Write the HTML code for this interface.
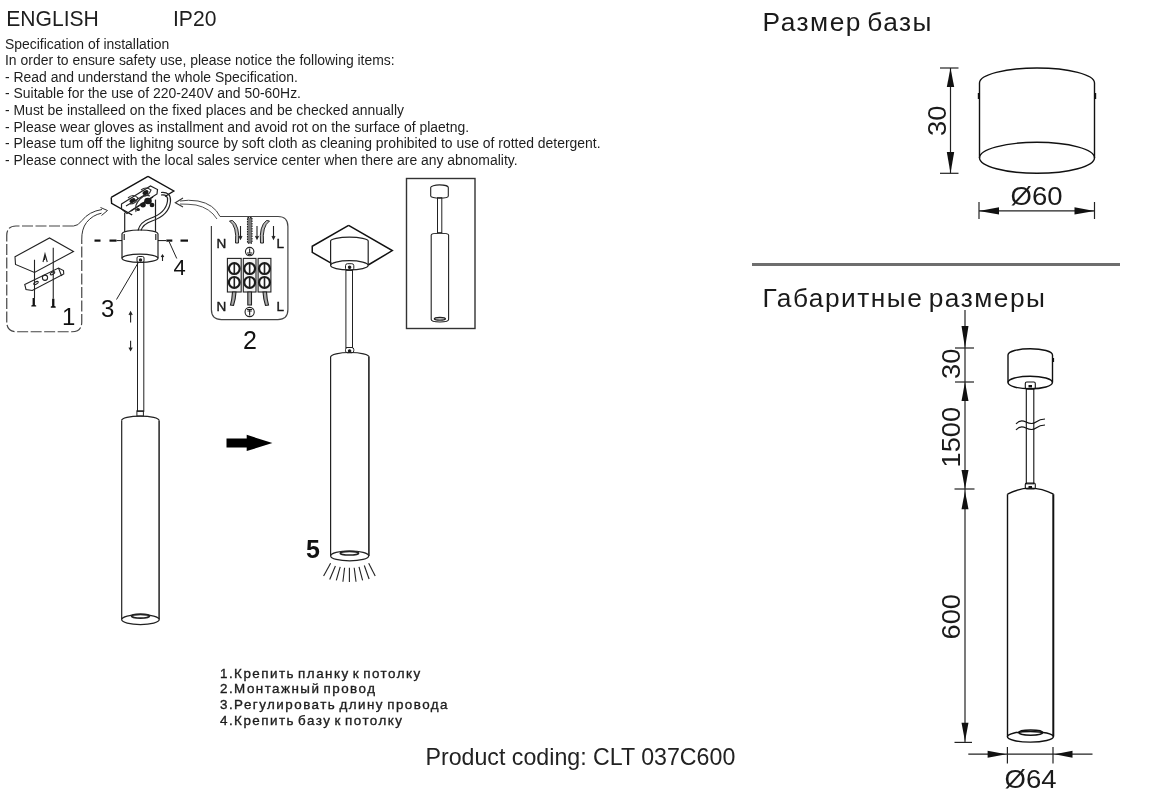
<!DOCTYPE html>
<html><head><meta charset="utf-8">
<style>
html,body{margin:0;padding:0;background:#fff;}
body{width:1159px;height:800px;overflow:hidden;position:relative;}
svg{position:absolute;left:0;top:0;will-change:transform;}
text{font-family:"Liberation Sans",sans-serif;fill:#1e1e1e;}
.spec{font-size:13.95px;fill:#2a2a2a;}
.ru{font-size:26.3px;letter-spacing:1.5px;word-spacing:-3.5px;fill:#1a1a1a;}
.dim{font-size:25px;fill:#1a1a1a;}
.num{font-size:23px;fill:#111;}
.ln{fill:none;stroke:#333;stroke-width:1.2;}
.lk{fill:none;stroke:#111;stroke-width:1.4;}
</style></head>
<body>
<svg width="1159" height="800" viewBox="0 0 1159 800">
<!-- top text -->
<text transform="translate(6.2 25.6) scale(0.96 1)" style="font-size:22px">ENGLISH</text>
<text transform="translate(173 25.6) scale(0.96 1)" style="font-size:22px">IP20</text>
<g class="spec">
<text x="5" y="48.7">Specification of installation</text>
<text x="5" y="64.6">In order to ensure safety use, please notice the following items:</text>
<text x="5" y="81.5">- Read and understand the whole Specification.</text>
<text x="5" y="98.2">- Suitable for the use of 220-240V and 50-60Hz.</text>
<text x="5" y="115.1">- Must be installeed on the fixed places and be checked annually</text>
<text x="5" y="131.5">- Please wear gloves as installment and avoid rot on the surface of plaetng.</text>
<text x="5" y="147.7">- Please tum off the lighitng source by soft cloth as cleaning prohibited to use of rotted detergent.</text>
<text x="5" y="164.5">- Please connect with the local sales service center when there are any abnomality.</text>
</g>
<!-- russian list -->
<g style="font-size:13.4px;letter-spacing:1.47px;word-spacing:-2px;fill:#1a1a1a;stroke:#1a1a1a;stroke-width:0.35px">
<text x="220" y="677.6">1.Крепить планку к потолку</text>
<text x="220" y="693.2">2.Монтажный провод</text>
<text x="220" y="709">3.Регулировать длину провода</text>
<text x="220" y="725">4.Крепить базу к потолку</text>
</g>
<text x="425.5" y="765.3" style="font-size:23.2px;fill:#222">Product coding: CLT 037C600</text>
<text x="762.5" y="30.7" class="ru">Размер базы</text>
<text x="762.5" y="306.7" class="ru">Габаритные размеры</text>


<!-- LEFT drawings -->
<!-- box 1 -->
<path d="M73.5 226 L16 226 Q6.75 226 6.75 235.5 L6.75 322 Q6.75 331.75 16.5 331.75 L72 331.75 Q81.75 331.75 81.75 322 L81.75 240" fill="none" stroke="#444" stroke-width="1.2" stroke-dasharray="11 2.5"/>
<path d="M73.5 226 Q78 226 82 220.5 Q89 211.5 102 209.5" fill="none" stroke="#333" stroke-width="1"/>
<path d="M81.75 240 Q81.5 229 86.5 222.5 Q92.5 215 101.5 213.2" fill="none" stroke="#333" stroke-width="1"/>
<path d="M100.5 207.5 L107.5 210.5 L101.5 215.5" fill="none" stroke="#333" stroke-width="1"/>
<g fill="none" stroke="#222" stroke-width="1.1">
<path d="M15 256.75 L49.5 238 L73.5 251.5 L34.5 272.5 L15.5 264.5 Z"/>
<path d="M24.75 284.5 L58.5 268 L63.5 270.5 L63.75 274 L32.25 290.5 L26 289.5 Z"/>
<path d="M58.5 268 L61 274.5 L62 276" />
<circle cx="45" cy="277.75" r="2.6"/>
<ellipse cx="36" cy="283" rx="2.5" ry="1.2" transform="rotate(-27 36 283)"/>
<ellipse cx="52.5" cy="273.25" rx="2.5" ry="1.2" transform="rotate(-27 52.5 273.25)"/>
<line x1="34.5" y1="259.75" x2="34.5" y2="298"/>
<line x1="53.25" y1="247.75" x2="53.25" y2="298.75"/>
<path d="M43 262 L45 254 L47.25 262 M45 254 L44.5 260"/>
</g>
<g fill="#111">
<path d="M32.6 298 L34.9 298 L34.9 305 L36.2 305.5 L36.2 306.6 L31.3 306.6 L31.3 305.5 L32.6 305 Z"/>
<path d="M52.1 298.75 L54.4 298.75 L54.4 306 L55.7 306.5 L55.7 307.7 L50.8 307.7 L50.8 306.5 L52.1 306 Z"/>
</g>
<text class="num" x="62" y="324.5" style="font-size:24px">1</text>

<!-- ceiling plate + junction -->
<g fill="none" stroke="#111" stroke-width="1.4">
<path d="M148 176.4 L173.8 191 L165 196.5 M111.2 197.4 L148 176.4 M111.2 197.4 L111.6 203.4 L132.2 215"/>
</g>
<g fill="none" stroke="#222" stroke-width="1.2">
<path d="M121.5 204 L150.5 186 L157.5 189.5 L157 194 L153 196.5 L132 210 L127 213.5 L121.5 209 Z"/>
<path d="M126 206 L148 193 M131 211 L153 197"/>
<path d="M138 230.5 Q140 222 150 218.5 Q166 213 167.5 201 Q168.5 194 161 195"/>
<path d="M141 230.5 Q143 224 152 221 Q169.5 215 170.5 201 Q171 191.5 161 192.5"/>
<line x1="124.7" y1="212.7" x2="124.7" y2="232"/>
<line x1="155.5" y1="199.6" x2="155.5" y2="232"/>
</g>
<g fill="#1a1a1a">
<ellipse cx="132.5" cy="200.5" rx="3.2" ry="2" transform="rotate(-30 132.5 200.5)"/>
<ellipse cx="145.5" cy="192.5" rx="3.2" ry="2" transform="rotate(-30 145.5 192.5)"/>
<ellipse cx="148" cy="201" rx="3.8" ry="3.2"/>
<ellipse cx="143" cy="205" rx="2.8" ry="2.4"/>
<ellipse cx="152" cy="205" rx="2.4" ry="2.2"/>
<ellipse cx="138" cy="209.5" rx="2" ry="1.6"/>
</g>
<g fill="none" stroke="#333" stroke-width="1.1">
<path d="M128 198 Q133 193 138 198 Q136 204 130 204 M141 190 Q146 186 151 190 Q149 196 143 196"/>
<path d="M136 212 Q134 205 140 199 Q145 194 150 196"/>
</g>
<!-- arrow right from box 2 -->
<path d="M220 216.5 Q214 204 198 201 Q188 199.5 180 201" fill="none" stroke="#444" stroke-width="1"/>
<path d="M217 219 Q210 208 196 205 Q188 204 180 204" fill="none" stroke="#555" stroke-width="1"/>
<path d="M183 198 L175.3 202.7 L183 207" fill="none" stroke="#333" stroke-width="1.1"/>

<!-- canopy -->
<g fill="none" stroke="#222" stroke-width="1.2">
<path d="M122 234 A18 4 0 0 1 158 234"/>
<path d="M122 234 L122 258.3 M158 234 L158 258.3"/>
<path d="M124.2 234 L124.2 240 M155.8 234 L155.8 240"/>
<ellipse cx="140" cy="258.3" rx="18" ry="4.1"/>
<rect x="137.5" y="262.4" width="6.3" height="149" stroke-width="1"/>
<rect x="137" y="256.5" width="7" height="6" rx="1.5" stroke-width="1"/><circle cx="140.5" cy="260" r="1.1" fill="#111"/>
<rect x="136.9" y="410.8" width="6.5" height="5.2" stroke-width="1"/>
<path d="M121.5 420.6 A18.8 4.5 0 0 1 159.1 420.6"/>
<line x1="121.7" y1="420.6" x2="121.7" y2="619.3"/>
<line x1="159.1" y1="420.6" x2="159.1" y2="619.3" stroke-width="1.5"/>
<ellipse cx="140.45" cy="619.6" rx="18.8" ry="5"/>
<ellipse cx="140.5" cy="616.1" rx="9" ry="2" stroke-width="1.8"/>
<line x1="138" y1="263" x2="116.5" y2="299.5" stroke-width="1"/>
<line x1="169.25" y1="242" x2="176.75" y2="258.5" stroke-width="1"/>
</g>
<g stroke="#111" stroke-width="2.2">
<line x1="94.5" y1="240.6" x2="100.5" y2="240.6"/>
<line x1="109.5" y1="240.6" x2="116.5" y2="240.6"/>
<line x1="116.5" y1="240.6" x2="122" y2="240.6" stroke-width="1"/>
<line x1="158" y1="240.6" x2="166" y2="240.6" stroke-width="1"/>
<line x1="166.3" y1="240.6" x2="172.3" y2="240.6"/>
<line x1="180.5" y1="240.6" x2="188" y2="240.6"/>
</g>
<g fill="none" stroke="#222" stroke-width="1.1">
<path d="M162.5 261 L162.5 255.5 M161.2 257 L162.5 255 L163.8 257"/>
<path d="M130.6 322.4 L130.6 312 M129 315 L130.6 312 L132.2 315"/>
<path d="M130.6 340.8 L130.6 350.4 M129 347.4 L130.6 350.4 L132.2 347.4"/>
</g>
<text class="num" x="101" y="317.1" style="font-size:24px">3</text>
<text class="num" x="173.5" y="275" style="font-size:22px">4</text>

<!-- box 2 -->
<path d="M220 216.5 L278 216.5 Q287.9 216.5 287.9 226.5 L287.9 309.6 Q287.9 319.6 277.9 319.6 L221.4 319.6 Q211.4 319.6 211.4 309.6 L211.4 226" fill="none" stroke="#444" stroke-width="1.2"/>
<g fill="none" stroke="#222" stroke-width="1.1">
<rect x="227.4" y="258.4" width="13.8" height="33.6" fill="#f2f2f2"/>
<rect x="243.3" y="258.4" width="12.7" height="33.6" fill="#f2f2f2"/>
<rect x="258.1" y="258.4" width="12.8" height="33.6" fill="#f2f2f2"/>
<g stroke="#1a1a1a" stroke-width="2.2" fill="#fff">
<circle cx="234.3" cy="268.6" r="5.4"/>
<circle cx="234.3" cy="282.4" r="5.4"/>
<circle cx="249.65" cy="268.6" r="5.4"/>
<circle cx="249.65" cy="282.4" r="5.4"/>
<circle cx="264.5" cy="268.6" r="5.4"/>
<circle cx="264.5" cy="282.4" r="5.4"/>
</g>
<path d="M234.3 263.5 L234.3 273.7 M234.3 277.3 L234.3 287.5 M249.65 263.5 L249.65 273.7 M249.65 277.3 L249.65 287.5 M264.5 263.5 L264.5 273.7 M264.5 277.3 L264.5 287.5" stroke-width="1.6"/>
<circle cx="249.65" cy="251.6" r="4.2"/>
<path d="M249.65 248.5 L249.65 253 M247 253 L252.3 253 M247.8 254.5 L251.5 254.5"/>
<circle cx="249.65" cy="312" r="4.6"/>
<path d="M249.65 309 L249.65 315.5 M247 309.5 L252.3 309.5 M247.5 311 L251.8 311"/>
<path d="M229.5 221 Q237 226 235.5 243 L238.5 243 Q240 226 232.5 220.5 Z" fill="#bbb" stroke-width="1"/>
<path d="M269.5 221 Q262 226 263.5 243 L260.5 243 Q259 226 266.5 220.5 Z" fill="#bbb" stroke-width="1"/>
<rect x="247.5" y="217.6" width="4.5" height="25.5" fill="#777" stroke-dasharray="1.5 1"/>
<path d="M240.5 226 L240.5 239 M239 236 L240.5 239 L242 236"/>
<path d="M257 226 L257 239 M255.5 236 L257 239 L258.5 236"/>
<path d="M273.5 226 L273.5 239 M272 236 L273.5 239 L275 236"/>
<path d="M232.5 292 Q232 300 230.5 305 L233.5 305.5 Q235.5 300 236 292 Z" fill="#aaa"/>
<path d="M247.8 292 L247.8 305 L251.5 305 L251.5 292 Z" fill="#aaa"/>
<path d="M263 292 Q263.5 300 265.5 305.5 L268.5 305 Q267 300 266.5 292 Z" fill="#aaa"/>
</g>
<g style="font-size:13.5px;fill:#111;stroke:#111;stroke-width:0.4px">
<text x="216.5" y="248.4">N</text>
<text x="276.5" y="248.4">L</text>
<text x="216.5" y="311">N</text>
<text x="276.5" y="311">L</text>
</g>
<text class="num" x="243" y="349.3" style="font-size:25px">2</text>

<!-- thick arrow -->
<path d="M226.5 438.4 L246.7 438.4 L246.7 434.8 L272.4 443 L246.7 451.1 L246.7 447.5 L226.5 447.5 Z" fill="#000"/>

<!-- installed pendant -->
<path d="M348.6 225.3 L392.3 250.6 L368.2 265 M331.5 263.3 L312.25 252.4 L312.25 246.25 L348.6 225.3" fill="none" stroke="#111" stroke-width="1.5"/>
<g fill="none" stroke="#222" stroke-width="1.2">
<path d="M330.6 241 A18.8 3.8 0 0 1 368.2 241"/>
<line x1="330.6" y1="241" x2="330.6" y2="265.3"/>
<line x1="368.2" y1="241" x2="368.2" y2="265.3"/>
<ellipse cx="349.4" cy="265.3" rx="18.8" ry="4.6"/>
<rect x="345.9" y="270.3" width="6.6" height="77.2" stroke-width="1"/>
<rect x="345.5" y="263.7" width="8.3" height="6.6" rx="2" stroke-width="1"/><circle cx="349.6" cy="267.3" r="1.2" fill="#111"/>
<rect x="345.5" y="347.5" width="8.3" height="5.3" rx="2" stroke-width="1"/><circle cx="349.6" cy="351" r="1.2" fill="#111"/>
<path d="M330.6 357 A19.25 4.5 0 0 1 369.1 357"/>
<line x1="330.6" y1="357" x2="330.6" y2="555.9"/>
<line x1="368.9" y1="357" x2="368.9" y2="555.9" stroke-width="1.6"/>
<ellipse cx="349.65" cy="555.9" rx="19" ry="4.9"/>
<ellipse cx="349.4" cy="553.2" rx="9.2" ry="1.8" stroke-width="1.6"/>
</g>
<g stroke="#222" stroke-width="1.1" fill="none">
<line x1="330.6" y1="563.3" x2="323.6" y2="576"/>
<line x1="335.4" y1="566" x2="329.7" y2="579.5"/>
<line x1="340.2" y1="566.8" x2="336.3" y2="580.4"/>
<line x1="344.6" y1="567.7" x2="342.9" y2="581.7"/>
<line x1="349.4" y1="567.7" x2="349.4" y2="582.1"/>
<line x1="354.2" y1="567.7" x2="356" y2="581.7"/>
<line x1="359" y1="566.8" x2="362.6" y2="580.4"/>
<line x1="364.3" y1="565.5" x2="369.1" y2="579"/>
<line x1="368.7" y1="563.3" x2="375.2" y2="576"/>
</g>
<text x="306" y="558" style="font-size:25px;font-weight:bold;fill:#111">5</text>

<!-- inset box -->
<rect x="406.5" y="178.5" width="68.5" height="150" fill="none" stroke="#333" stroke-width="1.4"/>
<g fill="none" stroke="#222" stroke-width="1.1">
<path d="M430.7 187.5 A8.8 2.6 0 0 1 448.3 187.5 L448.3 196 A8.8 2.2 0 0 1 430.7 196 Z"/>
<rect x="437.5" y="197.7" width="4.3" height="35" stroke-width="1"/>
<path d="M431.2 235 A8.7 1.8 0 0 1 448.6 235 L448.6 319.5 A8.7 2.5 0 0 1 431.2 319.5 Z"/><ellipse cx="439.9" cy="318.8" rx="5.5" ry="1.3" stroke-width="1.4"/>
</g>

<!-- RIGHT: base drawing -->
<g class="lk">
<path d="M979.5 83 A57.5 15 0 0 1 1094.5 83"/>
<line x1="979.5" y1="83" x2="979.5" y2="158"/>
<line x1="1094.5" y1="83" x2="1094.5" y2="158"/>
<ellipse cx="1037" cy="157.8" rx="57.5" ry="15.5"/>
<line x1="978.6" y1="93" x2="978.6" y2="99" stroke-width="1.6"/>
<line x1="1095.4" y1="93" x2="1095.4" y2="99" stroke-width="1.6"/>
</g>
<g stroke="#222" stroke-width="1.2" fill="#111">
<line x1="950.5" y1="68" x2="950.5" y2="173.3"/>
<line x1="940" y1="68" x2="958.5" y2="68"/>
<line x1="940" y1="173.3" x2="958.5" y2="173.3"/>
<path d="M950.5 68 L946.8 87 L954.2 87 Z" stroke="none"/>
<path d="M950.5 173.3 L946.8 152 L954.2 152 Z" stroke="none"/>
<line x1="979" y1="210.9" x2="1094.5" y2="210.9"/>
<line x1="979" y1="202" x2="979" y2="219"/>
<line x1="1094.5" y1="202" x2="1094.5" y2="219"/>
<path d="M979 210.9 L999 207.2 L999 214.6 Z" stroke="none"/>
<path d="M1094.5 210.9 L1074.5 207.2 L1074.5 214.6 Z" stroke="none"/>
</g>
<text class="dim" transform="translate(945.5 136) rotate(-90) scale(1.09 1)">30</text>
<text class="dim" transform="translate(1010.5 205) scale(1.1 1)">Ø60</text>

<!-- RIGHT: full dims -->
<g stroke="#222" stroke-width="1.2" fill="#111">
<line x1="965" y1="310" x2="965" y2="742.4"/>
<line x1="955" y1="348" x2="974" y2="348"/>
<line x1="955" y1="382" x2="974" y2="382"/>
<line x1="954.5" y1="489" x2="974.5" y2="489"/>
<line x1="954.5" y1="742.4" x2="972" y2="742.4"/>
<path d="M965 348 L961.5 326 L968.5 326 Z" stroke="none"/>
<path d="M965 382 L961.5 401 L968.5 401 Z" stroke="none"/>
<path d="M965 489 L961.5 470 L968.5 470 Z" stroke="none"/>
<path d="M965 491 L961.5 509.3 L968.5 509.3 Z" stroke="none"/>
<path d="M965 741.4 L961.5 722.8 L968.5 722.8 Z" stroke="none"/>
<line x1="968.3" y1="754.2" x2="1092.5" y2="754.2"/>
<line x1="1007.4" y1="747" x2="1007.4" y2="763.5"/>
<line x1="1053" y1="747" x2="1053" y2="763.5"/>
<path d="M1006.3 754.2 L987.6 750.7 L987.6 757.7 Z" stroke="none"/>
<path d="M1054.6 754.2 L1072.5 750.7 L1072.5 757.7 Z" stroke="none"/>
</g>
<text class="dim" transform="translate(959.5 379) rotate(-90) scale(1.09 1)">30</text>
<text class="dim" transform="translate(959.5 467.5) rotate(-90) scale(1.09 1)">1500</text>
<text class="dim" transform="translate(959.5 639.5) rotate(-90) scale(1.09 1)">600</text>
<text class="dim" transform="translate(1004.5 787.5) scale(1.1 1)">Ø64</text>
<g class="lk">
<path d="M1008 355 A22.25 6.3 0 0 1 1052.5 355"/><line x1="1053.3" y1="358" x2="1053.3" y2="362" stroke-width="1.6"/>
<line x1="1008" y1="355" x2="1008" y2="382.5"/>
<line x1="1052.5" y1="355" x2="1052.5" y2="382.5"/>
<ellipse cx="1030.2" cy="382.5" rx="22.2" ry="6.3"/>
<rect x="1026.3" y="388.8" width="7.5" height="95" stroke-width="1.1"/>
<rect x="1025.3" y="382" width="10" height="7" rx="1.5" stroke-width="1.1"/><rect x="1028.5" y="385" width="3.5" height="2.5" fill="#111" stroke="none"/>
<rect x="1025.3" y="483" width="10" height="6" rx="1.5" stroke-width="1.1"/><rect x="1028.5" y="486" width="3.5" height="2.5" fill="#111" stroke="none"/>
<path d="M1016 424 q4 -5 10 -2 t 10 0 t 9 -3" stroke-width="1.1"/>
<path d="M1016 430 q4 -5 10 -2 t 10 0 t 9 -3" stroke-width="1.1"/>
<path d="M1007.5 494.2 Q1030.5 482 1053.5 494.2"/>
<line x1="1007.5" y1="494.2" x2="1007.5" y2="736.6"/>
<line x1="1053.3" y1="494.2" x2="1053.3" y2="736.6" stroke-width="2"/>
<ellipse cx="1030.4" cy="736.8" rx="23" ry="5.3"/>
<ellipse cx="1030.7" cy="732.6" rx="12" ry="2.6" stroke-width="1.5"/>
</g>

<!-- separator -->
<rect x="752" y="263" width="368" height="3" fill="#6e6e6e"/>
</svg>
</body></html>
